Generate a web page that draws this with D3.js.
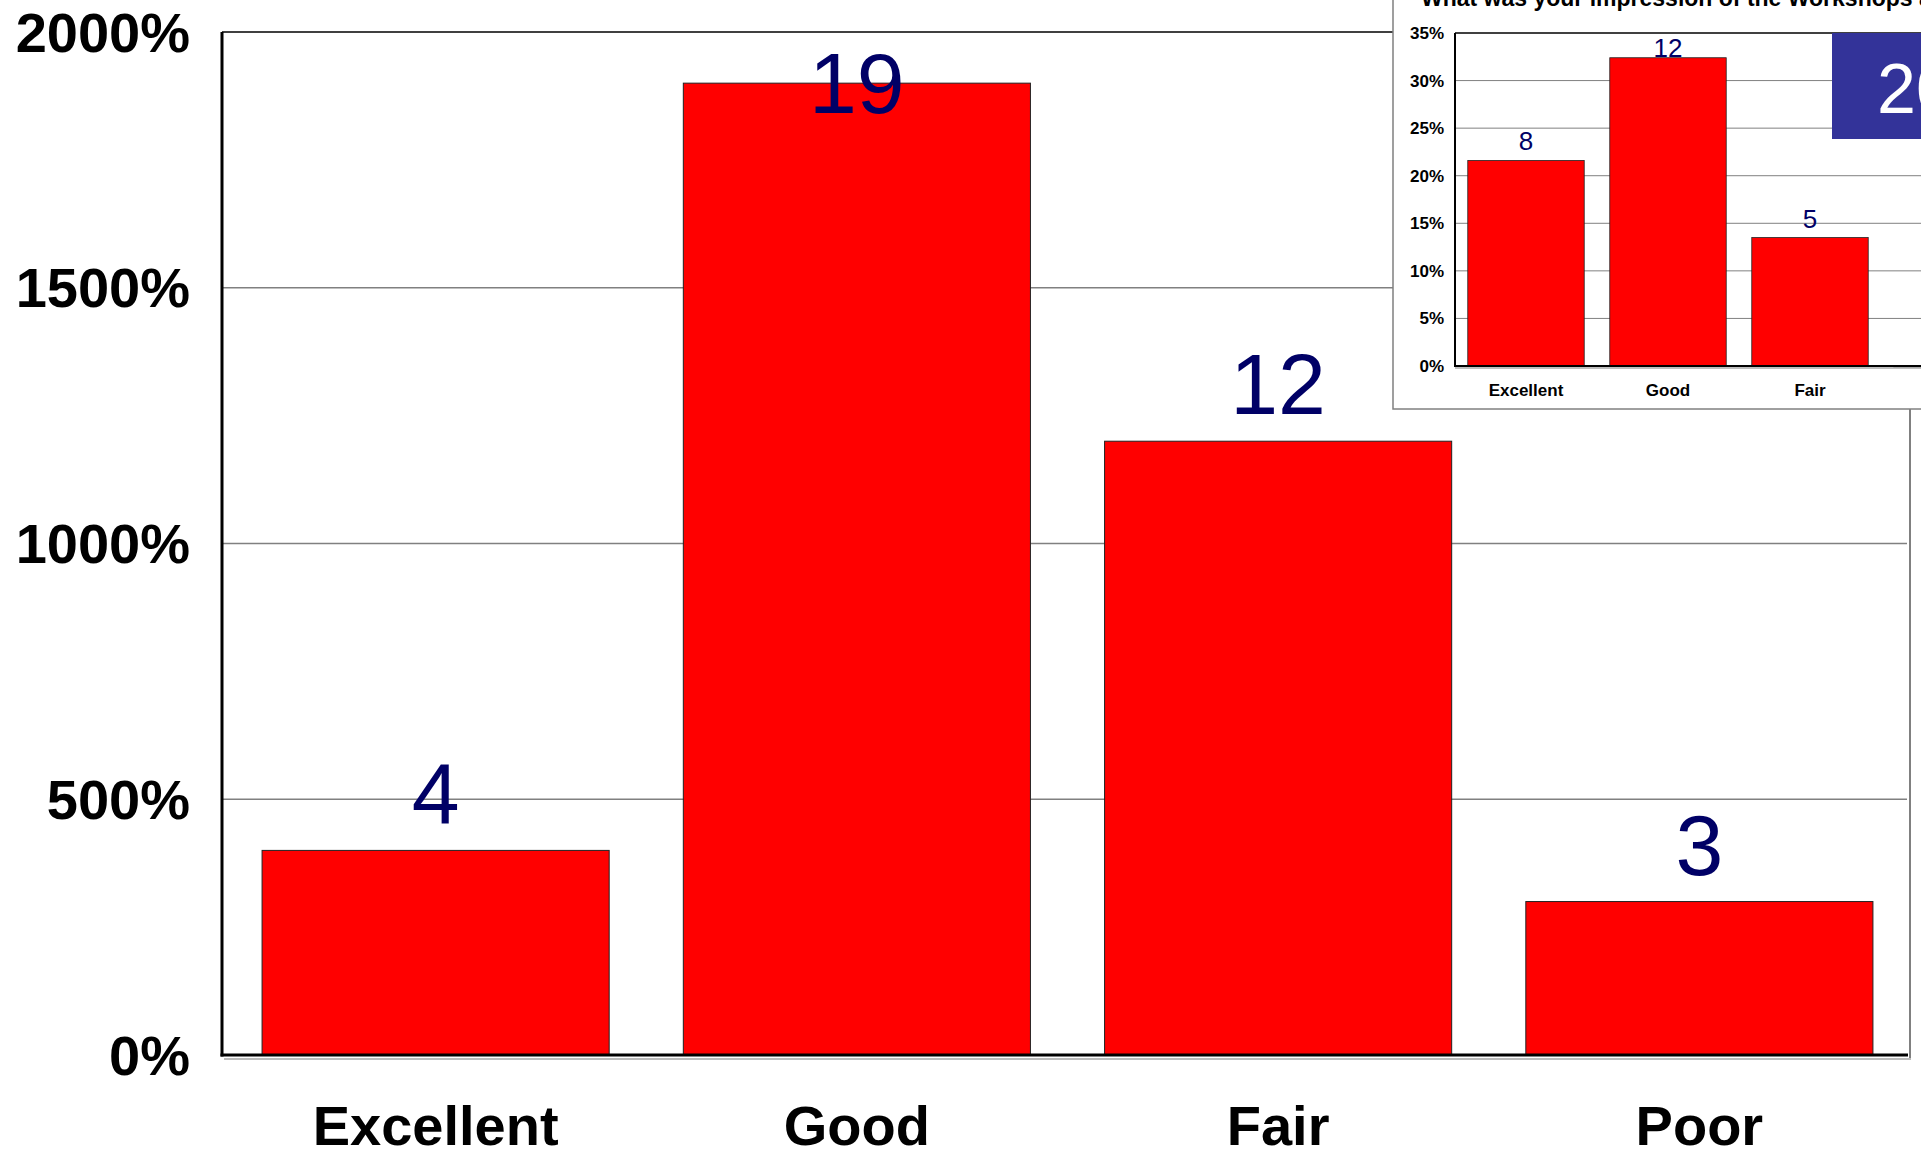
<!DOCTYPE html>
<html>
<head>
<meta charset="utf-8">
<script src="https://cdn.jsdelivr.net/npm/d3@7.9.0/dist/d3.min.js"></script>
<style>
  body { margin: 0; background: #fff; }
  svg { display: block; font-family: "Liberation Sans", Arial, sans-serif; }
</style>
</head>
<body>
<svg id="chart" width="1921" height="1157"></svg>
<script>
// main chart data
const categories = ['Excellent', 'Good', 'Fair', 'Poor'];
const counts = [4, 19, 12, 3];
const percents = [400, 1900, 1200, 300];
const yTicks = [0, 500, 1000, 1500, 2000];

// inset (pasted older chart) data
const insetTitle = 'What was your impression of the Workshops at the conference?';
const insetCategories = ['Excellent', 'Good', 'Fair', 'Poor'];
const insetCounts = [8, 12, 5, 0];
const insetPercents = [21.6, 32.4, 13.5, 0];
const insetTicks = [0, 5, 10, 15, 20, 25, 30, 35];
const insetBadge = '2005';

const svg = d3.select('#chart');
const navy = '#000066';

// ---------- main chart ----------
const m = { left: 222, right: 1907, top: 32, bottom: 1055 };
const x = d3.scaleBand().domain(categories).range([m.left + 3, m.right + 3]).paddingInner(0.176).paddingOuter(0.088);
const y = d3.scaleLinear().domain([0, 2000]).range([m.bottom, m.top]);

const main = svg.append('g');

// gridlines
main.selectAll('line.grid')
  .data(yTicks.filter(t => t > 0 && t < 2000))
  .join('line')
  .attr('x1', m.left).attr('x2', m.right)
  .attr('y1', d => y(d)).attr('y2', d => y(d))
  .attr('stroke', '#808080').attr('stroke-width', 1.5);

// top and right frame
main.append('line').attr('x1', m.left).attr('x2', m.right + 3).attr('y1', m.top).attr('y2', m.top)
  .attr('stroke', '#000').attr('stroke-width', 1.5);
main.append('line').attr('x1', m.right + 3).attr('x2', m.right + 3).attr('y1', m.top).attr('y2', m.bottom + 3)
  .attr('stroke', '#808080').attr('stroke-width', 2);

// bars
main.selectAll('rect.bar')
  .data(percents)
  .join('rect')
  .attr('x', (d, i) => x(categories[i]))
  .attr('width', x.bandwidth())
  .attr('y', d => y(d))
  .attr('height', d => y(0) - y(d))
  .attr('fill', '#ff0000')
  .attr('stroke', '#222')
  .attr('stroke-width', 1);

// value labels
main.selectAll('text.val')
  .data(percents)
  .join('text')
  .attr('x', (d, i) => x(categories[i]) + x.bandwidth() / 2)
  .attr('y', d => Math.max(y(d) - 27, m.top + 81))
  .attr('text-anchor', 'middle')
  .attr('font-size', 86)
  .attr('fill', navy)
  .text((d, i) => counts[i]);

// axes
main.append('line').attr('x1', m.left + 2).attr('x2', m.right + 4).attr('y1', m.bottom + 4).attr('y2', m.bottom + 4)
  .attr('stroke', '#bbb').attr('stroke-width', 2);
main.append('line').attr('x1', m.left).attr('x2', m.left).attr('y1', m.top).attr('y2', m.bottom + 1.5)
  .attr('stroke', '#000').attr('stroke-width', 3);
main.append('line').attr('x1', m.left - 1.5).attr('x2', m.right + 1).attr('y1', m.bottom).attr('y2', m.bottom)
  .attr('stroke', '#000').attr('stroke-width', 3);

main.selectAll('text.ytick')
  .data(yTicks)
  .join('text')
  .attr('x', m.left - 32)
  .attr('y', d => y(d))
  .attr('dy', '0.35em')
  .attr('text-anchor', 'end')
  .attr('font-size', 56)
  .attr('font-weight', 'bold')
  .text(d => d + '%');

main.selectAll('text.xcat')
  .data(categories)
  .join('text')
  .attr('x', d => x(d) + x.bandwidth() / 2)
  .attr('y', 1145)
  .attr('text-anchor', 'middle')
  .attr('font-size', 56)
  .attr('font-weight', 'bold')
  .text(d => d);

// ---------- inset ----------
const box = { left: 1393, bottom: 409 };
const n = { left: 1455, top: 33, bottom: 366 };
const ix = d3.scaleBand().domain(insetCategories)
  .range([n.left, n.left + 142 * insetCategories.length]).paddingInner(0.18).paddingOuter(0.09);
const iy = d3.scaleLinear().domain([0, 35]).range([n.bottom, n.top]);

const inset = svg.append('g');
inset.append('rect')
  .attr('x', box.left).attr('y', -5)
  .attr('width', 1921 - box.left + 10).attr('height', box.bottom + 5)
  .attr('fill', '#fff').attr('stroke', '#808080').attr('stroke-width', 1.5);

inset.append('text')
  .attr('x', 1421).attr('y', 6)
  .attr('font-size', 23).attr('font-weight', 'bold')
  .text(insetTitle);

inset.selectAll('line.igrid')
  .data(insetTicks.filter(t => t > 0 && t < 35))
  .join('line')
  .attr('x1', n.left).attr('x2', 1921)
  .attr('y1', d => iy(d)).attr('y2', d => iy(d))
  .attr('stroke', '#808080').attr('stroke-width', 1);
inset.append('line').attr('x1', n.left).attr('x2', 1921).attr('y1', n.top).attr('y2', n.top)
  .attr('stroke', '#000').attr('stroke-width', 1.5);

// badge
inset.append('rect')
  .attr('x', 1832).attr('y', n.top)
  .attr('width', 100).attr('height', 106)
  .attr('fill', '#333399');
inset.append('text')
  .attr('x', 1877).attr('y', 113)
  .attr('font-size', 70).attr('fill', '#fff')
  .text(insetBadge);

inset.selectAll('rect.ibar')
  .data(insetPercents)
  .join('rect')
  .attr('x', (d, i) => ix(insetCategories[i]))
  .attr('width', ix.bandwidth())
  .attr('y', d => iy(d))
  .attr('height', d => Math.max(iy(0) - iy(d), 1))
  .attr('fill', '#ff0000')
  .attr('stroke', '#222')
  .attr('stroke-width', 0.8);

inset.selectAll('text.ival')
  .data(insetPercents)
  .join('text')
  .attr('x', (d, i) => ix(insetCategories[i]) + ix.bandwidth() / 2)
  .attr('y', d => Math.max(iy(d) - 10, n.top + 24))
  .attr('text-anchor', 'middle')
  .attr('font-size', 26)
  .attr('fill', navy)
  .text((d, i) => insetCounts[i]);

inset.append('line').attr('x1', n.left).attr('x2', 1921).attr('y1', n.bottom + 2).attr('y2', n.bottom + 2)
  .attr('stroke', '#aaa').attr('stroke-width', 1.5);
inset.append('line').attr('x1', n.left).attr('x2', n.left).attr('y1', n.top).attr('y2', n.bottom)
  .attr('stroke', '#000').attr('stroke-width', 2);
inset.append('line').attr('x1', n.left - 1).attr('x2', 1921).attr('y1', n.bottom).attr('y2', n.bottom)
  .attr('stroke', '#000').attr('stroke-width', 2);

inset.selectAll('text.itick')
  .data(insetTicks)
  .join('text')
  .attr('x', n.left - 11)
  .attr('y', d => iy(d))
  .attr('dy', '0.35em')
  .attr('text-anchor', 'end')
  .attr('font-size', 17)
  .attr('font-weight', 'bold')
  .text(d => d + '%');

inset.selectAll('text.icat')
  .data(insetCategories)
  .join('text')
  .attr('x', d => ix(d) + ix.bandwidth() / 2)
  .attr('y', 396)
  .attr('text-anchor', 'middle')
  .attr('font-size', 17)
  .attr('font-weight', 'bold')
  .text(d => d);
</script>
</body>
</html>
